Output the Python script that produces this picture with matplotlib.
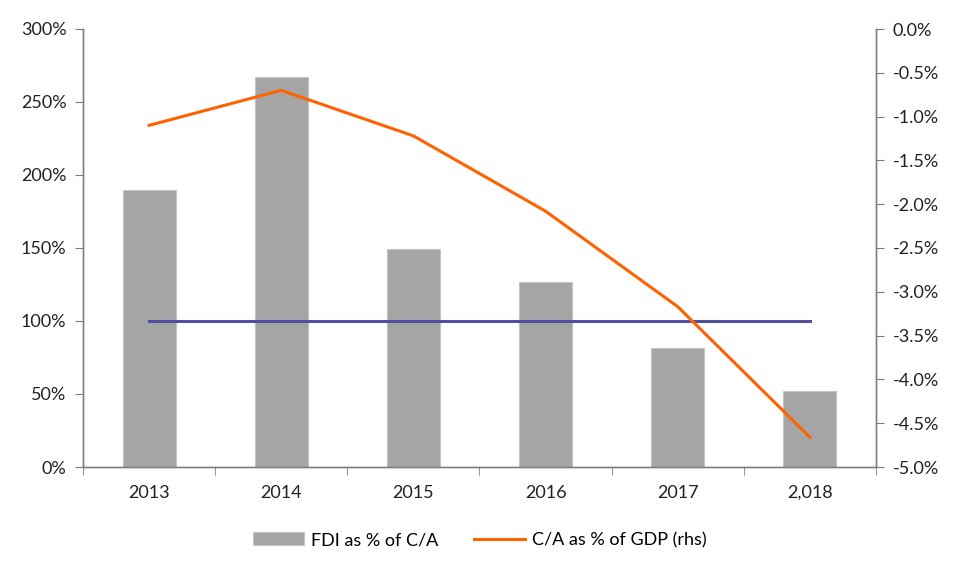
import numpy as np
import matplotlib.pyplot as plt
from matplotlib.ticker import FuncFormatter

years = ['2013', '2014', '2015', '2016', '2017', '2,018']
fdi_pct_ca = [190, 267, 149, 127, 81.5, 52]
ca_pct_gdp = [-1.10, -0.70, -1.22, -2.08, -3.17, -4.66]
threshold = [100, 100, 100, 100, 100, 100]

plt.rcParams['font.family'] = ['Lato', 'DejaVu Sans']
plt.rcParams['font.size'] = 13

fig = plt.figure(figsize=(9.6, 5.76), dpi=100)
ax = fig.add_axes([83 / 960, 1 - 467 / 576, (876 - 83) / 960, (467 - 29) / 576])
x = np.arange(len(years))

bars = ax.bar(x, fdi_pct_ca, width=0.4, color='#a5a5a5', edgecolor='#c4c4c4',
              linewidth=0.8, label='FDI as % of C/A', zorder=2)
ax.plot(x, threshold, color='#50509e', linewidth=2.2, zorder=3)
ax.set_xlim(-0.5, len(years) - 0.5)
ax.set_ylim(0, 300)
ax.set_yticks(range(0, 301, 50))
ax.yaxis.set_major_formatter(FuncFormatter(lambda v, p: f'{v:.0f}%'))
ax.set_xticks(x)
ax.set_xticklabels(years)
ax.set_xticks(np.arange(-0.5, len(years), 1), minor=True)
ax.tick_params(axis='x', which='major', length=0, pad=13)
ax.tick_params(axis='x', which='minor', length=6, color='#7f7f7f')
ax.tick_params(axis='y', length=6, color='#7f7f7f', pad=6)

ax2 = ax.twinx()
line, = ax2.plot(x, ca_pct_gdp, color='#ff6200', linewidth=2.2,
                 label='C/A as % of GDP (rhs)', zorder=4)
ax2.set_ylim(-5, 0)
ax2.set_yticks(np.arange(-5, 0.01, 0.5))
ax2.yaxis.set_major_formatter(FuncFormatter(lambda v, p: f'{v:.1f}%'))
ax2.tick_params(axis='y', length=6, color='#7f7f7f', pad=6)

for a in (ax, ax2):
    a.spines['top'].set_visible(False)
    for s in ('left', 'right', 'bottom'):
        a.spines[s].set_color('#7f7f7f')
        a.spines[s].set_linewidth(1.0)
    a.tick_params(labelcolor='#222222')

fig.legend([bars, line], ['FDI as % of C/A', 'C/A as % of GDP (rhs)'],
           loc='center', bbox_to_anchor=(0.5, 1 - 540 / 576), ncol=2,
           frameon=False, columnspacing=2.0, handlelength=2.8,
           handletextpad=0.4, handleheight=0.7)

fig.savefig('out.png', dpi=100)
